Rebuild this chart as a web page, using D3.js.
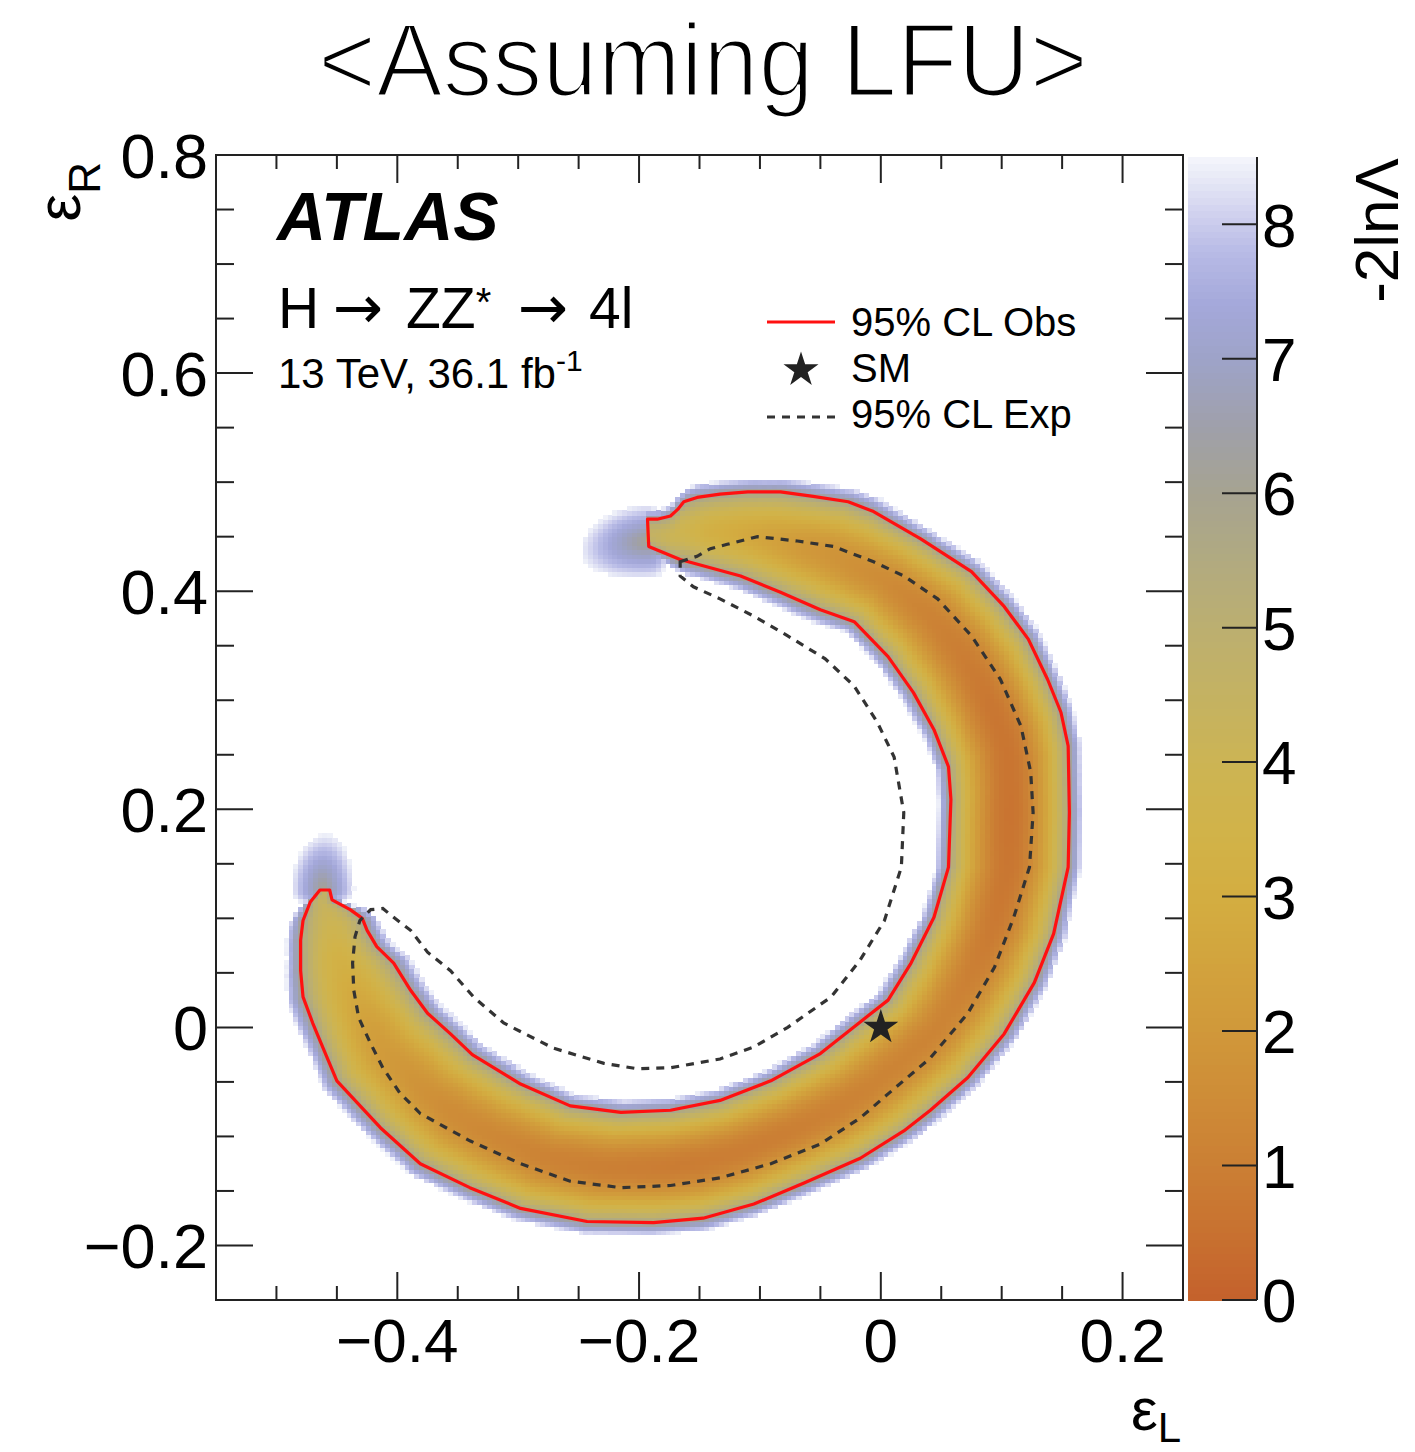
<!DOCTYPE html>
<html><head><meta charset="utf-8">
<script src="https://cdn.jsdelivr.net/npm/d3@7"></script>
<style>body{margin:0;background:#fff}svg{display:block}</style>
</head><body>
<script>
// ---------------- data ----------------
const xDomain = [-0.55, 0.25];
const yDomain = [-0.25, 0.8];
const zDomain = [0, 8.5];
const xTickLabels = [-0.4, -0.2, 0, 0.2];
const yTickLabels = [-0.2, 0, 0.2, 0.4, 0.6, 0.8];
const zTickLabels = [0, 1, 2, 3, 4, 5, 6, 7, 8];
const minorStep = 0.05;

const paletteStops  = [0, 0.5, 1, 1.5, 2, 2.5, 3, 3.5, 4, 4.5, 5, 5.5, 6, 6.5, 7, 7.4, 7.8, 8.1, 8.4, 8.6];
const paletteColors = ["#c4612c","#c87130","#cb7f34","#ce8c37","#d0983a","#d2a33d","#d3ad41","#d1b349","#ccb454","#c4b262","#bcaf70","#b1aa80","#a6a391","#9fa0aa","#9ea3c8","#a4a8da","#b8bbe6","#d2d3ef","#eceef8","#ffffff"];

// observed 95% CL contour (eL, eR), closed
const obsContour = [
[-0.193,0.466],[-0.185,0.466],[-0.174,0.469],[-0.168,0.475],[-0.163,0.482],[-0.152,0.486],[-0.133,0.489],
[-0.110,0.491],[-0.083,0.491],[-0.056,0.487],[-0.027,0.482],[-0.006,0.473],[0.033,0.448],[0.075,0.418],
[0.102,0.386],[0.122,0.356],[0.138,0.319],[0.149,0.289],[0.155,0.258],[0.156,0.197],[0.155,0.147],
[0.143,0.086],[0.127,0.041],[0.102,-0.006],[0.072,-0.046],[0.041,-0.076],[0.019,-0.095],[-0.017,-0.120],
[-0.064,-0.143],[-0.105,-0.162],[-0.147,-0.175],[-0.188,-0.179],[-0.243,-0.178],[-0.298,-0.166],
[-0.340,-0.147],[-0.381,-0.125],[-0.414,-0.092],[-0.450,-0.049],[-0.458,-0.028],[-0.470,0.004],
[-0.478,0.028],[-0.480,0.052],[-0.480,0.080],[-0.478,0.098],[-0.472,0.115],[-0.464,0.126],[-0.456,0.126],
[-0.454,0.117],[-0.439,0.108],[-0.429,0.100],[-0.425,0.089],[-0.417,0.074],[-0.403,0.059],[-0.389,0.034],
[-0.375,0.013],[-0.356,-0.006],[-0.338,-0.025],[-0.298,-0.052],[-0.257,-0.072],[-0.215,-0.078],
[-0.174,-0.076],[-0.133,-0.067],[-0.091,-0.049],[-0.050,-0.024],[-0.017,0.005],[0.006,0.025],[0.025,0.059],
[0.044,0.101],[0.056,0.147],[0.058,0.209],[0.056,0.239],[0.044,0.273],[0.027,0.307],[0.006,0.340],
[-0.022,0.372],[-0.050,0.383],[-0.083,0.399],[-0.116,0.414],[-0.166,0.429],[-0.192,0.441]
];

// expected 95% CL contour (eL, eR), closed
const expContour = [
[-0.166,0.427],[-0.152,0.432],[-0.141,0.439],[-0.127,0.443],[-0.102,0.450],[-0.069,0.446],[-0.039,0.441],
[-0.006,0.427],[0.019,0.414],[0.047,0.393],[0.075,0.359],[0.099,0.319],[0.116,0.276],[0.124,0.234],
[0.126,0.197],[0.123,0.147],[0.110,0.101],[0.094,0.055],[0.072,0.013],[0.041,-0.028],[0.006,-0.061],
[-0.017,-0.083],[-0.050,-0.107],[-0.091,-0.125],[-0.133,-0.138],[-0.174,-0.145],[-0.215,-0.147],
[-0.257,-0.141],[-0.298,-0.125],[-0.340,-0.104],[-0.381,-0.079],[-0.398,-0.060],[-0.412,-0.037],
[-0.422,-0.015],[-0.432,0.009],[-0.436,0.034],[-0.437,0.059],[-0.435,0.083],[-0.431,0.098],[-0.422,0.108],
[-0.412,0.109],[-0.402,0.100],[-0.389,0.089],[-0.375,0.069],[-0.356,0.052],[-0.337,0.028],[-0.312,0.004],
[-0.271,-0.019],[-0.229,-0.033],[-0.201,-0.038],[-0.174,-0.037],[-0.133,-0.029],[-0.105,-0.018],
[-0.077,0.000],[-0.041,0.028],[-0.017,0.062],[0.003,0.098],[0.017,0.147],[0.019,0.197],[0.011,0.248],
[-0.003,0.280],[-0.022,0.313],[-0.046,0.338],[-0.077,0.359],[-0.105,0.377],[-0.133,0.393],[-0.155,0.404],
[-0.166,0.414]
];

const smPoint = [0, 0];

// likelihood landscape description
const cl95 = 5.99;
const ringCenter = [-0.169, 0.145];
const valleyAngles = [-176, -165, -150, -130, -110, -90, -70, -50, -30, -10, 10, 30, 50, 70, 85, 94];
const valleyValues = [4.6, 3.4, 2.3, 1.5, 1.1, 0.9, 1.0, 1.2, 1.2, 0.8, 0.6, 0.7, 1.2, 2.0, 3.2, 4.6];
const tipAngles = [94.35, -176.3];
const tipDirection = [1, -1];
const tipRadii = [0.302, 0.293];
const tipAlong = [0.058, 0.052];
const tipAcross = [0.034, 0.026];

// ---------------- layout ----------------
const W = 1415, H = 1452;
const svg = d3.select("body").append("svg").attr("width", W).attr("height", H);
const x = d3.scaleLinear().domain(xDomain).range([216, 1183]);
const y = d3.scaleLinear().domain(yDomain).range([1300, 155]);
const z = d3.scaleLinear().domain(zDomain).range([1300, 157]);
const color = d3.scaleLinear().domain(paletteStops).range(paletteColors).interpolate(d3.interpolateRgb).clamp(true);
const FONT = "'Liberation Sans', Arial, Helvetica, sans-serif";

// ---------------- field ----------------
const NB = 1440, C = ringCenter;
const rays = new Array(NB);
for (let k = 0; k < NB; k++) {
  const th = (-180 + k * 360 / NB) * Math.PI / 180;
  const dx = Math.cos(th), dy = Math.sin(th);
  const ts = [];
  const n = obsContour.length;
  for (let i = 0; i < n; i++) {
    const P = obsContour[i], Q = obsContour[(i + 1) % n];
    const ex = Q[0] - P[0], ey = Q[1] - P[1];
    const den = dx * ey - dy * ex;
    if (Math.abs(den) < 1e-12) continue;
    const px = P[0] - C[0], py = P[1] - C[1];
    const t = (px * ey - py * ex) / den;
    const s = (px * dy - py * dx) / den;
    if (t > 0 && s >= 0 && s < 1) ts.push(t);
  }
  rays[k] = ts.length >= 2 ? [d3.min(ts), d3.max(ts)] : null;
}
const valley = d3.scaleLinear().domain(valleyAngles).range(valleyValues).clamp(true);
const wrap = a => ((a + 540) % 360) - 180;
function fieldValue(l, r) {
  const dx = l - C[0], dy = r - C[1];
  const rad = Math.hypot(dx, dy);
  const th = Math.atan2(dy, dx) * 180 / Math.PI;
  let v = Infinity;
  const k = Math.round((th + 180) / (360 / NB)) % NB;
  const ray = rays[k];
  if (ray) {
    const mid = (ray[0] + ray[1]) / 2, half = (ray[1] - ray[0]) / 2;
    const vv = valley(th);
    const h = (rad - mid) / half;
    v = vv + (cl95 - vv) * h * h;
  }
  for (let i = 0; i < tipAngles.length; i++) {
    const d = wrap(th - tipAngles[i]) * tipDirection[i];
    const arc = d * Math.PI / 180 * rad;
    const along = arc > 0 ? arc / tipAlong[i] : arc / (tipAlong[i] * 0.3);
    const across = (rad - tipRadii[i]) / tipAcross[i];
    const vt = 6.0 + 2.5 * Math.hypot(along, across);
    v = Math.min(v, vt);
  }
  return v;
}
const step = 0.004;
const cells = [];
const nx = Math.round((xDomain[1] - xDomain[0]) / step), ny = Math.round((yDomain[1] - yDomain[0]) / step);
for (let i = 0; i < nx; i++) for (let j = 0; j < ny; j++) {
  const l = xDomain[0] + (i + 0.5) * step, r = yDomain[0] + (j + 0.5) * step;
  const v = fieldValue(l, r);
  if (v < 8.45) cells.push({ l, r, v });
}

svg.append("defs").append("clipPath").attr("id", "plotclip")
  .append("rect").attr("x", x(xDomain[0])).attr("y", y(yDomain[1]))
  .attr("width", x(xDomain[1]) - x(xDomain[0])).attr("height", y(yDomain[0]) - y(yDomain[1]));

const plot = svg.append("g").attr("clip-path", "url(#plotclip)");
const cw = x(step) - x(0), ch = y(0) - y(step);
plot.append("g").attr("shape-rendering", "crispEdges").selectAll("rect").data(cells).join("rect")
  .attr("x", d => x(d.l - step / 2)).attr("y", d => y(d.r + step / 2))
  .attr("width", cw + 0.7).attr("height", ch + 0.7)
  .attr("fill", d => color(d.v));

const line = d3.line().x(d => x(d[0])).y(d => y(d[1])).curve(d3.curveLinearClosed);
plot.append("path").attr("d", line(obsContour)).attr("fill", "none")
  .attr("stroke", "#ff1010").attr("stroke-width", 3.2).attr("stroke-linejoin", "round");
plot.append("path").attr("d", line(expContour)).attr("fill", "none")
  .attr("stroke", "#333").attr("stroke-width", 3.2).attr("stroke-dasharray", "8,7");
const star = d3.symbol().type(d3.symbolStar).size(380);
plot.append("path").attr("d", star()).attr("transform", `translate(${x(smPoint[0])},${y(smPoint[1])})`)
  .attr("fill", "#222");

// ---------------- frame & ticks ----------------
const axisCol = "#222";
const gx = svg.append("g").attr("stroke", axisCol).attr("stroke-width", 2);
const isMajor = v => Math.abs(v / 0.2 - Math.round(v / 0.2)) < 1e-6;
const xTicks = d3.range(-0.5, 0.2001, minorStep).map(v => +v.toFixed(3));
const yTicks = d3.range(-0.2, 0.8001, minorStep).map(v => +v.toFixed(3));
const y0 = y(yDomain[0]), y1 = y(yDomain[1]), x0 = x(xDomain[0]), x1 = x(xDomain[1]);
xTicks.forEach(v => {
  const L = isMajor(v) ? 28 : 14;
  gx.append("line").attr("x1", x(v)).attr("x2", x(v)).attr("y1", y0).attr("y2", y0 - L);
  gx.append("line").attr("x1", x(v)).attr("x2", x(v)).attr("y1", y1).attr("y2", y1 + L);
});
yTicks.forEach(v => {
  const L = isMajor(v) ? 37 : 18;
  gx.append("line").attr("y1", y(v)).attr("y2", y(v)).attr("x1", x0).attr("x2", x0 + L);
  gx.append("line").attr("y1", y(v)).attr("y2", y(v)).attr("x1", x1).attr("x2", x1 - L);
});
gx.append("rect").attr("x", x0).attr("y", y1).attr("width", x1 - x0).attr("height", y0 - y1).attr("fill", "none");

const fmt = v => v === 0 ? "0" : (v < 0 ? "\u2212" : "") + Math.abs(v).toFixed(1);
svg.append("g").selectAll("text").data(xTickLabels).join("text")
  .attr("x", d => x(d)).attr("y", 1362).attr("text-anchor", "middle")
  .attr("font-family", FONT).attr("font-size", 62).text(fmt);
svg.append("g").selectAll("text").data(yTickLabels).join("text")
  .attr("x", 208).attr("y", d => y(d)).attr("dy", "0.36em").attr("text-anchor", "end")
  .attr("font-family", FONT).attr("font-size", 63).text(fmt);

// axis titles
const xt = svg.append("text").attr("x", 1181).attr("y", 1430).attr("text-anchor", "end")
  .attr("font-family", FONT).attr("font-size", 60);
xt.append("tspan").text("\u03b5");
xt.append("tspan").attr("font-size", 42).attr("dy", 12).text("L");
const yt = svg.append("text").attr("transform", "translate(80,162) rotate(-90)").attr("text-anchor", "end")
  .attr("font-family", FONT).attr("font-size", 62);
yt.append("tspan").text("\u03b5");
yt.append("tspan").attr("font-size", 44).attr("dy", 20).text("R");

// ---------------- colour bar ----------------
const cb = svg.append("g");
const zs = d3.range(0, 8.5, 0.05);
cb.append("g").attr("shape-rendering", "crispEdges").selectAll("rect").data(zs).join("rect")
  .attr("x", 1188).attr("width", 68)
  .attr("y", d => z(d + 0.05)).attr("height", d => z(d) - z(d + 0.05) + 0.6)
  .attr("fill", d => color(d + 0.025));
cb.append("line").attr("x1", 1257).attr("x2", 1257).attr("y1", z(zDomain[1])).attr("y2", z(0))
  .attr("stroke", axisCol).attr("stroke-width", 2);
cb.selectAll(".zt").data(zTickLabels).join("line")
  .attr("x1", 1222).attr("x2", 1257).attr("y1", d => z(d)).attr("y2", d => z(d))
  .attr("stroke", axisCol).attr("stroke-width", 2);
cb.selectAll("text.zl").data(zTickLabels).join("text")
  .attr("x", 1262).attr("y", d => z(d)).attr("dy", "0.36em")
  .attr("font-family", FONT).attr("font-size", 62).text(d => d);
svg.append("text").attr("transform", "translate(1398,158) rotate(-90)").attr("text-anchor", "end")
  .attr("font-family", FONT).attr("font-size", 62).text("-2ln\u039b");

// ---------------- annotations ----------------
svg.append("text").attr("x", 703).attr("y", 96).attr("text-anchor", "middle")
  .attr("font-family", FONT).attr("font-size", 104)
  .attr("textLength", 770).attr("lengthAdjust", "spacingAndGlyphs")
  .attr("fill", "#000").attr("stroke", "#fff").attr("stroke-width", 3.2)
  .text("<Assuming LFU>");
svg.append("text").attr("x", 277).attr("y", 240).attr("font-family", FONT)
  .attr("font-weight", "bold").attr("font-style", "italic").attr("font-size", 68).text("ATLAS");
const proc = svg.append("text").attr("y", 328).attr("font-family", FONT).attr("font-size", 57);
proc.append("tspan").attr("x", 278).text("H");
proc.append("tspan").attr("x", 333).attr("font-family", "'DejaVu Sans', sans-serif").attr("font-size", 60).text("\u2192");
proc.append("tspan").attr("x", 406).text("ZZ");
proc.append("tspan").attr("font-size", 40).attr("dy", -12).text("*");
proc.append("tspan").attr("x", 518).attr("dy", 12).attr("font-family", "'DejaVu Sans', sans-serif").attr("font-size", 60).text("\u2192");
proc.append("tspan").attr("x", 589).text("4l");
const lumi = svg.append("text").attr("x", 278).attr("y", 388).attr("font-family", FONT).attr("font-size", 42);
lumi.append("tspan").text("13 TeV, 36.1 fb");
lumi.append("tspan").attr("font-size", 30).attr("dy", -17).text("-1");

// legend
const lg = svg.append("g").attr("font-family", FONT).attr("font-size", 40);
lg.append("line").attr("x1", 767).attr("x2", 835).attr("y1", 322).attr("y2", 322)
  .attr("stroke", "#ff1010").attr("stroke-width", 3.2);
lg.append("text").attr("x", 851).attr("y", 336).text("95% CL Obs");
lg.append("path").attr("d", star()).attr("transform", "translate(801,370)").attr("fill", "#222");
lg.append("text").attr("x", 851).attr("y", 382).text("SM");
lg.append("line").attr("x1", 767).attr("x2", 835).attr("y1", 417).attr("y2", 417)
  .attr("stroke", "#333").attr("stroke-width", 3.2).attr("stroke-dasharray", "8,7");
lg.append("text").attr("x", 851).attr("y", 428).text("95% CL Exp");
</script>
</body></html>
